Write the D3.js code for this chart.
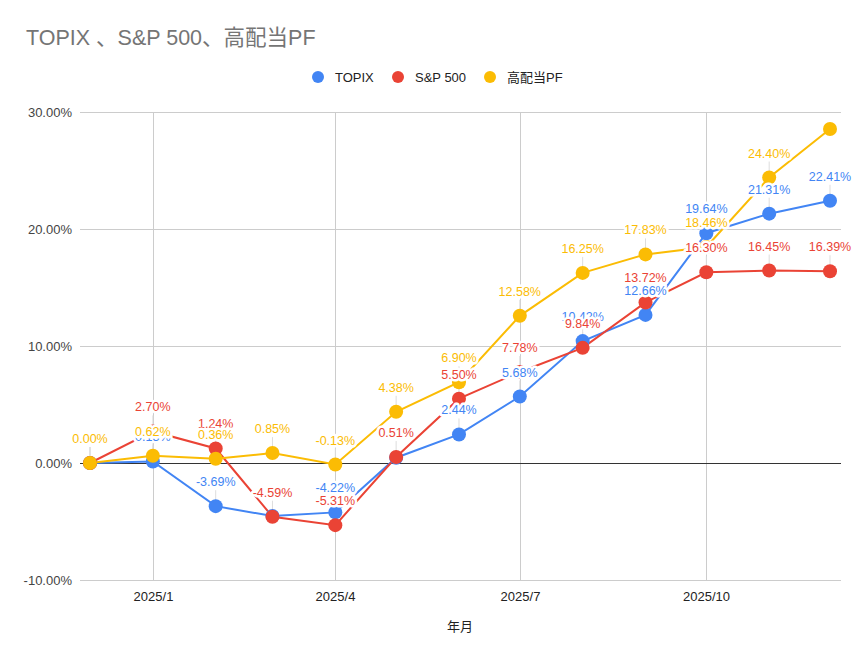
<!DOCTYPE html>
<html>
<head>
<meta charset="utf-8">
<script src="https://cdn.jsdelivr.net/npm/d3@7"></script>
<style>
  body { margin: 0; background: #fff; }
  text { font-family: "Liberation Sans", Arial, "Noto Sans CJK JP", sans-serif; }
</style>
</head>
<body>
<div id="chart"></div>
<script>

// months (first day of each month)
var months = ["2024-12", "2025-01", "2025-02", "2025-03", "2025-04", "2025-05", "2025-06",
              "2025-07", "2025-08", "2025-09", "2025-10", "2025-11", "2025-12"];

// returns in %
var topix   = [0.00, 0.13, -3.69, -4.53, -4.22, 0.45, 2.44, 5.68, 10.42, 12.66, 19.64, 21.31, 22.41];
var sp500   = [0.00, 2.70, 1.24, -4.59, -5.31, 0.51, 5.50, 7.78, 9.84, 13.72, 16.30, 16.45, 16.39];
var highDiv = [0.00, 0.62, 0.36, 0.85, -0.13, 4.38, 6.90, 12.58, 16.25, 17.83, 18.46, 24.40, 28.55];

var seriesNames = ["TOPIX", "S&P 500", "高配当PF"];
var yTicks = [-10, 0, 10, 20, 30];
var xTicks = ["2025-01", "2025-04", "2025-07", "2025-10"];

// labels the original chart leaves out (series index, point index)
var hiddenLabels = [[0, 3], [0, 5], [2, 12]];

var colors = ["#4285F4", "#EA4335", "#FBBC04"];
var allSeries = [topix, sp500, highDiv];

var width = 866, height = 654;
var plotLeft = 80, plotRight = 841, plotTop = 112, plotBottom = 580;

var parse = d3.timeParse("%Y-%m");
var dates = months.map(parse);

var svg = d3.select("#chart").append("svg")
    .attr("width", width)
    .attr("height", height);

var x = d3.scaleTime()
    .domain(d3.extent(dates))
    .range([90, 830]);

var y = d3.scaleLinear()
    .domain([-10, 30])
    .range([plotBottom, plotTop]);

function pct(v) { return v.toFixed(2) + "%"; }

// title
svg.append("text")
    .attr("x", 26)
    .attr("y", 45)
    .style("font-size", "21.5px")
    .style("fill", "#757575")
    .text("TOPIX 、S&P 500、高配当PF");

// legend
var legendX = [318, 398, 490];
seriesNames.forEach(function(name, i) {
  svg.append("circle")
      .attr("cx", legendX[i])
      .attr("cy", 77)
      .attr("r", 6)
      .style("fill", colors[i]);
  svg.append("text")
      .attr("x", legendX[i] + 17)
      .attr("y", 81.5)
      .style("font-size", "13px")
      .style("fill", "#222")
      .text(name);
});

// horizontal gridlines + y labels
yTicks.forEach(function(t) {
  svg.append("line")
      .attr("x1", plotLeft).attr("x2", plotRight)
      .attr("y1", y(t) + 0.5).attr("y2", y(t) + 0.5)
      .style("stroke", "#ccc")
      .style("stroke-width", 1);
  svg.append("text")
      .attr("x", 72)
      .attr("y", y(t) + 4.5)
      .style("text-anchor", "end")
      .style("font-size", "13px")
      .style("fill", "#444")
      .text(pct(t));
});

// vertical gridlines + x labels
xTicks.forEach(function(t) {
  var xx = Math.round(x(parse(t))) + 0.5;
  svg.append("line")
      .attr("x1", xx).attr("x2", xx)
      .attr("y1", plotTop).attr("y2", plotBottom)
      .style("stroke", "#ccc")
      .style("stroke-width", 1);
  svg.append("text")
      .attr("x", xx)
      .attr("y", 601)
      .style("text-anchor", "middle")
      .style("font-size", "13px")
      .style("fill", "#222")
      .text(d3.timeFormat("%Y/")(parse(t)) + (parse(t).getMonth() + 1));
});

// zero line on top of verticals
svg.append("line")
    .attr("x1", plotLeft).attr("x2", plotRight)
    .attr("y1", y(0) + 0.5).attr("y2", y(0) + 0.5)
    .style("stroke", "#333");

svg.append("text")
    .attr("x", 460)
    .attr("y", 631)
    .style("text-anchor", "middle")
    .style("font-size", "13px")
    .style("fill", "#222")
    .text("年月");

function isHidden(s, i) {
  return hiddenLabels.some(function(h) { return h[0] === s && h[1] === i; });
}

// leader lines
allSeries.forEach(function(vals, s) {
  vals.forEach(function(v, i) {
    if (isHidden(s, i)) return;
    svg.append("line")
        .attr("x1", x(dates[i])).attr("x2", x(dates[i]))
        .attr("y1", y(v) - 16).attr("y2", y(v))
        .style("stroke", "#ddd")
        .style("stroke-width", 1);
  });
});

var line = d3.line()
    .x(function(d, i) { return x(dates[i]); })
    .y(function(d) { return y(d); });

allSeries.forEach(function(vals, s) {
  svg.append("path")
      .datum(vals)
      .attr("d", line)
      .style("fill", "none")
      .style("stroke", colors[s])
      .style("stroke-width", 2);
});

allSeries.forEach(function(vals, s) {
  svg.selectAll(".pt" + s)
      .data(vals)
      .enter().append("circle")
      .attr("cx", function(d, i) { return x(dates[i]); })
      .attr("cy", function(d) { return y(d); })
      .attr("r", 7)
      .style("fill", colors[s]);
});

// data labels with white halo
allSeries.forEach(function(vals, s) {
  vals.forEach(function(v, i) {
    if (isHidden(s, i)) return;
    svg.append("text")
        .attr("x", x(dates[i]))
        .attr("y", y(v) - 20)
        .style("text-anchor", "middle")
        .style("font-size", "12.5px")
        .style("fill", colors[s])
        .style("stroke", "#fff")
        .style("stroke-width", 5)
        .style("stroke-linejoin", "round")
        .style("paint-order", "stroke")
        .text(pct(v));
  });
});

</script>
</body>
</html>
